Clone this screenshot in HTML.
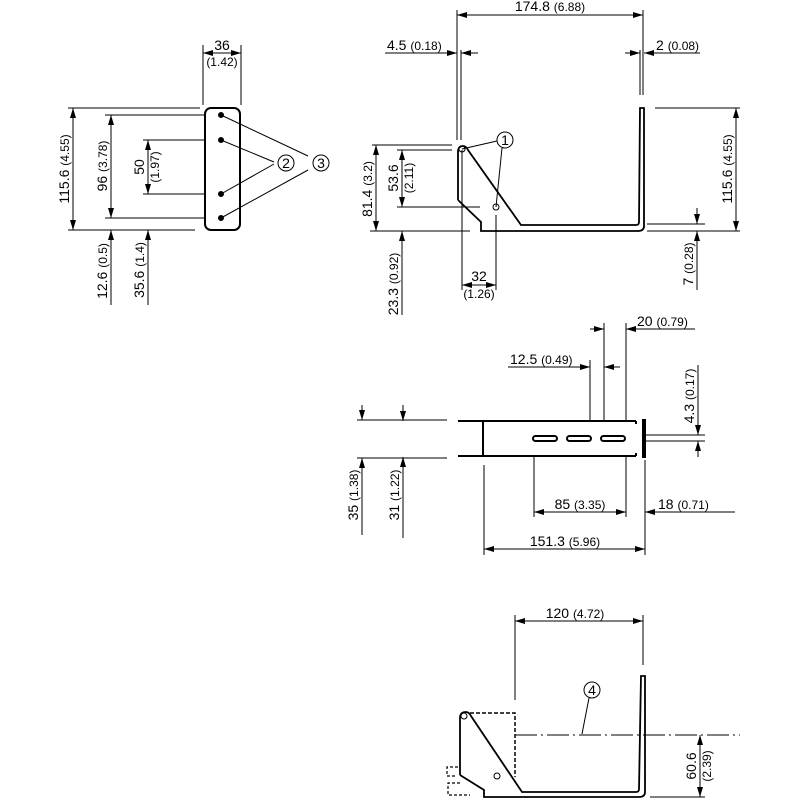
<!DOCTYPE html>
<html><head><meta charset="utf-8"><style>
html,body{margin:0;padding:0;background:#fff}
svg{display:block}
text{font-family:"Liberation Sans",sans-serif;fill:#000}
.t{font-size:14px}.s{font-size:12px}
</style></head><body>
<svg width="800" height="800" viewBox="0 0 800 800" xmlns="http://www.w3.org/2000/svg">
<defs>
<marker id="a" viewBox="0 0 10 6" refX="10" refY="3" markerWidth="10" markerHeight="6" markerUnits="userSpaceOnUse" orient="auto-start-reverse"><path d="M0,0L10,3L0,6z" fill="#000"/></marker>
</defs>
<g stroke="#000" stroke-width="1" fill="none">
<rect x="205" y="108" width="35" height="122" rx="6" stroke-width="2"/>
<line x1="203" y1="45" x2="203" y2="105"/><line x1="241" y1="45" x2="241" y2="105"/>
<line x1="203" y1="53" x2="241" y2="53" marker-start="url(#a)" marker-end="url(#a)"/>
<line x1="68" y1="108" x2="200" y2="108"/><line x1="68" y1="230" x2="195" y2="230"/>
<line x1="73" y1="108" x2="73" y2="230" marker-start="url(#a)" marker-end="url(#a)"/>
<line x1="105" y1="115" x2="205" y2="115"/><line x1="105" y1="218" x2="205" y2="218"/>
<line x1="111" y1="115" x2="111" y2="218" marker-start="url(#a)" marker-end="url(#a)"/>
<line x1="143" y1="140" x2="205" y2="140"/><line x1="143" y1="194" x2="205" y2="194"/>
<line x1="148" y1="140" x2="148" y2="194" marker-start="url(#a)" marker-end="url(#a)"/>
<line x1="111" y1="305" x2="111" y2="230" marker-end="url(#a)"/>
<line x1="148" y1="305" x2="148" y2="230" marker-end="url(#a)"/>
<g fill="#000"><circle cx="221" cy="115" r="2.5"/><circle cx="221" cy="140" r="2.5"/><circle cx="221" cy="194" r="2.5"/><circle cx="221" cy="218" r="2.5"/></g>
<line x1="221" y1="115" x2="308" y2="156"/><line x1="221" y1="218" x2="308" y2="170"/>
<line x1="221" y1="140" x2="274" y2="162"/><line x1="221" y1="194" x2="274" y2="164"/>
<circle cx="286" cy="163" r="8"/><circle cx="321" cy="163" r="8"/>
<path d="M458,200 L458,152 Q458,146 463,146 Q466,146 468,150 L521,225 L636,225 Q639,225 639,222 L640,108 L644,108 L644,226 Q644,231 638,231 L481,231 L481,222 L458,200" stroke-width="1.8"/>
<circle cx="462" cy="149" r="3"/><circle cx="496" cy="207" r="3"/>
<line x1="457" y1="10" x2="457" y2="140"/><line x1="643" y1="10" x2="643" y2="95"/>
<line x1="457" y1="15" x2="643" y2="15" marker-start="url(#a)" marker-end="url(#a)"/>
<line x1="461" y1="50" x2="461" y2="140"/><line x1="640" y1="50" x2="640" y2="95"/>
<line x1="385" y1="53" x2="457" y2="53" marker-end="url(#a)"/><line x1="478" y1="53" x2="461" y2="53" marker-end="url(#a)"/>
<line x1="625" y1="53" x2="640" y2="53" marker-end="url(#a)"/><line x1="700" y1="53" x2="644" y2="53" marker-end="url(#a)"/>
<line x1="655" y1="108" x2="740" y2="108"/><line x1="647" y1="231" x2="740" y2="231"/>
<line x1="736" y1="108" x2="736" y2="231" marker-start="url(#a)" marker-end="url(#a)"/>
<line x1="647" y1="224" x2="705" y2="224"/>
<line x1="697" y1="208" x2="697" y2="224" marker-end="url(#a)"/><line x1="697" y1="290" x2="697" y2="231" marker-end="url(#a)"/>
<line x1="372" y1="145" x2="452" y2="145"/><line x1="370" y1="231" x2="470" y2="231"/>
<line x1="376" y1="145" x2="376" y2="231" marker-start="url(#a)" marker-end="url(#a)"/>
<line x1="397" y1="150" x2="452" y2="150"/><line x1="397" y1="207" x2="480" y2="207"/>
<line x1="402" y1="150" x2="402" y2="207" marker-start="url(#a)" marker-end="url(#a)"/>
<line x1="402" y1="315" x2="402" y2="231" marker-end="url(#a)"/>
<line x1="462" y1="150" x2="462" y2="290"/><line x1="496" y1="215" x2="496" y2="290"/>
<line x1="462" y1="285" x2="496" y2="285" marker-start="url(#a)" marker-end="url(#a)"/>
<line x1="462" y1="149" x2="497" y2="141"/><line x1="496" y1="207" x2="502" y2="148"/>
<circle cx="505" cy="140" r="8"/>
<g stroke-width="2">
<line x1="458" y1="421" x2="636" y2="421"/><line x1="458" y1="456" x2="636" y2="456"/>
<line x1="483" y1="422" x2="483" y2="455"/>
<rect x="643" y="420" width="2" height="37"/>
<line x1="636" y1="421" x2="636" y2="424"/><line x1="636" y1="456" x2="636" y2="453"/>
<rect x="533" y="436" width="24" height="5" rx="2.5"/><rect x="567" y="436" width="24" height="5" rx="2.5"/><rect x="601" y="436" width="24" height="5" rx="2.5"/>
</g>
<line x1="357" y1="420" x2="447" y2="420"/><line x1="357" y1="458" x2="447" y2="458"/>
<line x1="362" y1="405" x2="362" y2="420" marker-end="url(#a)"/><line x1="362" y1="535" x2="362" y2="458" marker-end="url(#a)"/>
<line x1="403" y1="405" x2="403" y2="421" marker-end="url(#a)"/><line x1="403" y1="538" x2="403" y2="457" marker-end="url(#a)"/>
<line x1="645" y1="435" x2="705" y2="435"/><line x1="645" y1="441" x2="705" y2="441"/>
<line x1="698" y1="365" x2="698" y2="435" marker-end="url(#a)"/><line x1="698" y1="457" x2="698" y2="441" marker-end="url(#a)"/>
<line x1="604" y1="323" x2="604" y2="420"/><line x1="626" y1="323" x2="626" y2="420"/><line x1="590" y1="360" x2="590" y2="420"/>
<line x1="590" y1="329" x2="604" y2="329" marker-end="url(#a)"/><line x1="695" y1="329" x2="626" y2="329" marker-end="url(#a)"/>
<line x1="508" y1="367" x2="590" y2="367" marker-end="url(#a)"/><line x1="620" y1="367" x2="604" y2="367" marker-end="url(#a)"/>
<line x1="534" y1="455" x2="534" y2="517"/><line x1="626" y1="455" x2="626" y2="517"/>
<line x1="534" y1="512" x2="626" y2="512" marker-start="url(#a)" marker-end="url(#a)"/>
<line x1="735" y1="512" x2="645" y2="512" marker-end="url(#a)"/>
<line x1="484" y1="465" x2="484" y2="555"/><line x1="645" y1="460" x2="645" y2="555"/>
<line x1="484" y1="549" x2="645" y2="549" marker-start="url(#a)" marker-end="url(#a)"/>
<path d="M460,775 L460,718 Q460,712 466,712 Q469,712 471,716 L522,792 L636,792 Q639,792 639,789 L641,676 L645,676 L645,792 Q645,797 639,797 L484,797 L484,790 L460,775" stroke-width="1.8"/>
<circle cx="464" cy="716" r="3"/><circle cx="497" cy="776" r="3"/>
<path d="M470,713 L515,713 L515,777" stroke-dasharray="4,2" stroke-width="1.5"/>
<path d="M458,767 L447,767 L447,776 L455,776 M460,783 L448,783 L448,795 L470,795" stroke-dasharray="3,2" stroke-width="1.2"/>
<line x1="515" y1="735" x2="740" y2="735" stroke-dasharray="22,4,2,4"/>
<line x1="515" y1="615" x2="515" y2="700"/><line x1="643" y1="615" x2="643" y2="665"/>
<line x1="515" y1="621" x2="643" y2="621" marker-start="url(#a)" marker-end="url(#a)"/>
<line x1="650" y1="797" x2="705" y2="797"/>
<line x1="700" y1="735" x2="700" y2="797" marker-start="url(#a)" marker-end="url(#a)"/>
<line x1="582" y1="734" x2="589" y2="698"/>
<circle cx="592" cy="690" r="8"/>
</g>
<g>
<text class="t" x="222" y="50" text-anchor="middle">36</text><text class="s" x="222" y="66" text-anchor="middle">(1.42)</text>
<text class="t" transform="translate(69,169) rotate(-90)" text-anchor="middle">115.6 <tspan class="s">(4.55)</tspan></text>
<text class="t" transform="translate(107,166) rotate(-90)" text-anchor="middle">96 <tspan class="s">(3.78)</tspan></text>
<text class="t" transform="translate(144,167) rotate(-90)" text-anchor="middle">50</text>
<text class="s" transform="translate(159,167) rotate(-90)" text-anchor="middle">(1.97)</text>
<text class="t" transform="translate(107,271) rotate(-90)" text-anchor="middle">12.6 <tspan class="s">(0.5)</tspan></text>
<text class="t" transform="translate(144,270) rotate(-90)" text-anchor="middle">35.6 <tspan class="s">(1.4)</tspan></text>
<text class="t" x="286" y="168" text-anchor="middle">2</text><text class="t" x="321" y="168" text-anchor="middle">3</text>
<text class="t" x="550" y="11" text-anchor="middle">174.8 <tspan class="s">(6.88)</tspan></text>
<text class="t" x="387" y="50">4.5 <tspan class="s">(0.18)</tspan></text>
<text class="t" x="656" y="50">2 <tspan class="s">(0.08)</tspan></text>
<text class="t" transform="translate(732,169) rotate(-90)" text-anchor="middle">115.6 <tspan class="s">(4.55)</tspan></text>
<text class="t" transform="translate(693,264) rotate(-90)" text-anchor="middle">7 <tspan class="s">(0.28)</tspan></text>
<text class="t" transform="translate(372,189) rotate(-90)" text-anchor="middle">81.4 <tspan class="s">(3.2)</tspan></text>
<text class="t" transform="translate(398,178) rotate(-90)" text-anchor="middle">53.6</text>
<text class="s" transform="translate(413,178) rotate(-90)" text-anchor="middle">(2.11)</text>
<text class="t" transform="translate(398,284) rotate(-90)" text-anchor="middle">23.3 <tspan class="s">(0.92)</tspan></text>
<text class="t" x="479" y="281" text-anchor="middle">32</text><text class="s" x="479" y="298" text-anchor="middle">(1.26)</text>
<text class="t" x="505" y="145" text-anchor="middle">1</text>
<text class="t" x="637" y="326">20 <tspan class="s">(0.79)</tspan></text>
<text class="t" x="510" y="364">12.5 <tspan class="s">(0.49)</tspan></text>
<text class="t" transform="translate(694,396) rotate(-90)" text-anchor="middle">4.3 <tspan class="s">(0.17)</tspan></text>
<text class="t" transform="translate(358,495) rotate(-90)" text-anchor="middle">35 <tspan class="s">(1.38)</tspan></text>
<text class="t" transform="translate(399,495) rotate(-90)" text-anchor="middle">31 <tspan class="s">(1.22)</tspan></text>
<text class="t" x="580" y="509" text-anchor="middle">85 <tspan class="s">(3.35)</tspan></text>
<text class="t" x="658" y="509">18 <tspan class="s">(0.71)</tspan></text>
<text class="t" x="565" y="546" text-anchor="middle">151.3 <tspan class="s">(5.96)</tspan></text>
<text class="t" x="575" y="618" text-anchor="middle">120 <tspan class="s">(4.72)</tspan></text>
<text class="t" x="592" y="695" text-anchor="middle">4</text>
<text class="t" transform="translate(696,766) rotate(-90)" text-anchor="middle">60.6</text>
<text class="s" transform="translate(711,766) rotate(-90)" text-anchor="middle">(2.39)</text>
</g>
</svg>
</body></html>
